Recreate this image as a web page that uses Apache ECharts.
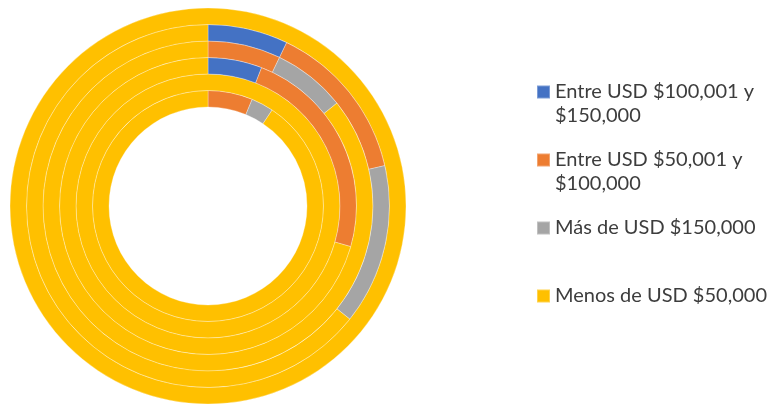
<!DOCTYPE html>
<html>
<head>
<meta charset="utf-8">
<style>
  html, body { margin: 0; padding: 0; background: #ffffff; }
  #chart { width: 769px; height: 410px; }
</style>
<script src="https://cdn.jsdelivr.net/npm/echarts@6/dist/echarts.min.js"></script>
</head>
<body>
<div id="chart"></div>
<script>
// Income brackets, in legend order
const categories = [
  'Entre USD $100,001 y $150,000',
  'Entre USD $50,001 y $100,000',
  'Más de USD $150,000',
  'Menos de USD $50,000'
];
const legendLabels = [
  'Entre USD $100,001 y\n$150,000',
  'Entre USD $50,001 y\n$100,000',
  'Más de USD $150,000',
  'Menos de USD $50,000'
];
const colors = ['#4472C4', '#ED7D31', '#A5A5A5', '#FFC000'];

// Responses per bracket for each ring, innermost ring first
const ring1 = [0, 2, 1, 29];
const ring2 = [0, 0, 0, 1];
const ring3 = [1, 4, 0, 12];
const ring4 = [0, 1, 1, 12];
const ring5 = [1, 2, 2, 9];
const ring6 = [0, 0, 0, 1];
const rings = [ring1, ring2, ring3, ring4, ring5, ring6];

const innerR = 99;
const outerR = 198;
const step = (outerR - innerR) / rings.length;

const series = rings.map((vals, i) => ({
  type: 'pie',
  center: [208, 206],
  radius: [innerR + i * step, innerR + (i + 1) * step],
  startAngle: 90,
  clockwise: true,
  label: { show: false },
  labelLine: { show: false },
  emphasis: { disabled: true },
  itemStyle: { borderColor: 'rgba(255,255,255,0.3)', borderWidth: 1 },
  data: vals
    .map((v, k) => ({ name: categories[k], value: v, itemStyle: { color: colors[k] } }))
    .filter(d => d.value > 0)
}));

// One legend block per bracket so every entry keeps an equal slot;
// wrapped entries get an empty leading line so the marker sits beside the first line
const legendTops = [56, 124, 216, 284];
const legends = categories.map((name, k) => {
  const twoLines = legendLabels[k].indexOf('\n') >= 0;
  return {
    left: 536,
    top: legendTops[k],
    padding: 0,
    orient: 'vertical',
    icon: 'rect',
    itemWidth: 13,
    itemHeight: 13,
    selectedMode: false,
    data: [name],
    formatter: () => (twoLines ? '\n' : '') + legendLabels[k],
    textStyle: {
      fontFamily: 'Lato',
      fontSize: 20,
      lineHeight: 24,
      color: '#3d3d3d'
    }
  };
});

const chart = echarts.init(document.getElementById('chart'), null, { renderer: 'canvas' });
chart.setOption({
  backgroundColor: '#ffffff',
  animation: false,
  legend: legends,
  series: series
});
</script>
</body>
</html>
